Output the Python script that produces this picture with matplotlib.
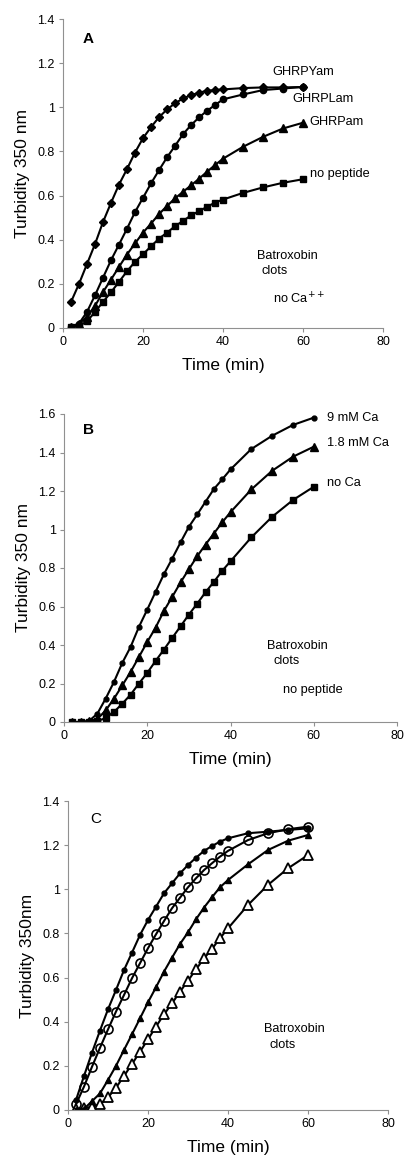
import matplotlib
matplotlib.use("Agg")
import matplotlib.pyplot as plt

plt.rcParams['font.family'] = ['Liberation Sans', 'DejaVu Sans']

t = [2, 4, 6, 8, 10, 12, 14, 16, 18, 20, 22, 24, 26, 28, 30, 32, 34, 36, 38, 40, 45, 50, 55, 60]

# Panel A
a_ghrpyam = [0.118, 0.20, 0.29, 0.38, 0.48, 0.567, 0.65, 0.72, 0.795, 0.86, 0.91, 0.955, 0.99, 1.018,
             1.04, 1.055, 1.066, 1.075, 1.078, 1.081, 1.087, 1.09, 1.09, 1.092]
a_ghrplam = [0.005, 0.02, 0.073, 0.148, 0.228, 0.307, 0.378, 0.45, 0.525, 0.59, 0.655, 0.715, 0.773, 0.825,
             0.878, 0.919, 0.954, 0.984, 1.01, 1.036, 1.058, 1.078, 1.085, 1.092]
a_ghrpam = [0.005, 0.02, 0.05, 0.10, 0.163, 0.219, 0.277, 0.333, 0.383, 0.432, 0.473, 0.516, 0.553, 0.587,
            0.617, 0.646, 0.676, 0.708, 0.738, 0.767, 0.821, 0.866, 0.904, 0.93]
a_nopep = [0.005, 0.01, 0.03, 0.073, 0.118, 0.162, 0.209, 0.257, 0.30, 0.334, 0.37, 0.405, 0.432, 0.461,
           0.485, 0.51, 0.529, 0.549, 0.568, 0.582, 0.612, 0.637, 0.658, 0.674]

# Panel B
b_9mm = [0.0, 0.0, 0.005, 0.043, 0.121, 0.208, 0.307, 0.39, 0.494, 0.584, 0.676, 0.768, 0.849, 0.933,
         1.014, 1.078, 1.144, 1.21, 1.26, 1.312, 1.418, 1.487, 1.543, 1.581]
b_18mm = [0.0, 0.0, 0.005, 0.015, 0.06, 0.121, 0.19, 0.26, 0.338, 0.416, 0.49, 0.577, 0.65, 0.725,
          0.794, 0.861, 0.922, 0.979, 1.037, 1.09, 1.208, 1.305, 1.378, 1.43]
b_noca = [0.0, 0.0, 0.0, 0.005, 0.02, 0.052, 0.095, 0.142, 0.20, 0.255, 0.317, 0.376, 0.437, 0.497,
          0.558, 0.615, 0.674, 0.728, 0.785, 0.835, 0.959, 1.066, 1.153, 1.222]

# Panel C
c_fcirc = [0.045, 0.154, 0.26, 0.36, 0.456, 0.544, 0.634, 0.713, 0.793, 0.861, 0.921, 0.982, 1.027, 1.072,
           1.11, 1.143, 1.174, 1.196, 1.216, 1.231, 1.254, 1.261, 1.269, 1.276]
c_ocirc = [0.026, 0.106, 0.196, 0.282, 0.365, 0.446, 0.521, 0.597, 0.665, 0.733, 0.796, 0.856, 0.914, 0.962,
           1.009, 1.05, 1.087, 1.118, 1.148, 1.174, 1.223, 1.254, 1.272, 1.284]
c_ftri = [0.0, 0.005, 0.04, 0.075, 0.136, 0.20, 0.272, 0.343, 0.415, 0.488, 0.556, 0.627, 0.69, 0.752,
          0.805, 0.864, 0.917, 0.964, 1.009, 1.042, 1.113, 1.178, 1.22, 1.246]
c_otri = [0.003, 0.008, 0.015, 0.026, 0.057, 0.101, 0.154, 0.208, 0.264, 0.32, 0.378, 0.433, 0.483, 0.536,
          0.586, 0.637, 0.687, 0.73, 0.778, 0.823, 0.929, 1.02, 1.095, 1.155]

W, H = 406, 1161
fig = plt.figure(figsize=(W / 100, H / 100), dpi=100)

def mkax(l, r, top, bot):
    return fig.add_axes([l / W, (H - bot) / H, (r - l) / W, (bot - top) / H])

axA = mkax(63, 383, 19, 328)
axB = mkax(64, 397, 414, 722)
axC = mkax(68, 388, 801, 1110)

TICKFS = 9
LBLFS = 12.5
TXTFS = 9.2

def style(ax, ymax, ylabel):
    ax.set_xlim(0, 80)
    ax.set_ylim(0, ymax)
    ax.set_xticks([0, 20, 40, 60, 80])
    ax.set_xticklabels(['0', '20', '40', '60', '80'])
    yt = [round(0.2 * i, 1) for i in range(int(round(ymax / 0.2)) + 1)]
    ax.set_yticks(yt)
    ax.set_yticklabels(['0' if v == 0 else ('1' if v == 1 else f'{v:g}') for v in yt])
    for s in ['top', 'right']:
        ax.spines[s].set_visible(False)
    for s in ['left', 'bottom']:
        ax.spines[s].set_color('#909090')
        ax.spines[s].set_linewidth(0.8)
    ax.tick_params(direction='out', length=3, width=0.8, color='#909090', labelsize=TICKFS, pad=3)
    ax.set_xlabel('Time (min)', fontsize=LBLFS, labelpad=7)
    ax.set_ylabel(ylabel, fontsize=LBLFS, labelpad=5)

lw = 1.5
# Panel A
axA.plot(t, a_nopep, color='black', lw=lw, marker='s', ms=5)
axA.plot(t, a_ghrpam, color='black', lw=lw, marker='^', ms=5.5)
axA.plot(t, a_ghrplam, color='black', lw=lw, marker='o', ms=4.5)
axA.plot(t, a_ghrpyam, color='black', lw=lw, marker='D', ms=4.5)
style(axA, 1.4, 'Turbidity 350 nm')
axA.text(5, 1.31, 'A', fontsize=11, fontweight='bold', ha='left', va='center')
axA.text(60, 1.16, 'GHRPYam', fontsize=TXTFS, ha='center', va='center')
axA.text(65, 1.036, 'GHRPLam', fontsize=TXTFS, ha='center', va='center')
axA.text(61.7, 0.935, 'GHRPam', fontsize=TXTFS, ha='left', va='center')
axA.text(61.7, 0.70, 'no peptide', fontsize=TXTFS, ha='left', va='center')
axA.text(56, 0.325, 'Batroxobin', fontsize=TXTFS, ha='center', va='center')
axA.text(53, 0.26, 'clots', fontsize=TXTFS, ha='center', va='center')
axA.text(52.5, 0.133, 'no Ca$^{++}$', fontsize=TXTFS, ha='left', va='center')

# Panel B
axB.plot(t, b_noca, color='black', lw=lw, marker='s', ms=5)
axB.plot(t, b_18mm, color='black', lw=lw, marker='^', ms=5.5)
axB.plot(t, b_9mm, color='black', lw=lw, marker='o', ms=3.5)
style(axB, 1.6, 'Turbidity 350 nm')
axB.text(4.5, 1.516, 'B', fontsize=11, fontweight='bold', ha='left', va='center')
axB.text(63.2, 1.58, '9 mM Ca', fontsize=TXTFS, ha='left', va='center')
axB.text(63.2, 1.447, '1.8 mM Ca', fontsize=TXTFS, ha='left', va='center')
axB.text(63.2, 1.243, 'no Ca', fontsize=TXTFS, ha='left', va='center')
axB.text(56, 0.395, 'Batroxobin', fontsize=TXTFS, ha='center', va='center')
axB.text(53.5, 0.317, 'clots', fontsize=TXTFS, ha='center', va='center')
axB.text(59.7, 0.165, 'no peptide', fontsize=TXTFS, ha='center', va='center')

# Panel C
axC.plot(t, c_otri, color='black', lw=lw, marker='^', ms=7, mfc='white', mew=1.3)
axC.plot(t, c_ftri, color='black', lw=lw, marker='^', ms=4.5)
axC.plot(t, c_ocirc, color='black', lw=lw, marker='o', ms=6.5, mfc='none', mew=1.2)
axC.plot(t, c_fcirc, color='black', lw=lw, marker='o', ms=3.5)
style(axC, 1.4, 'Turbidity 350nm')
axC.text(5.5, 1.32, 'C', fontsize=11, ha='left', va='center')
axC.text(56.5, 0.366, 'Batroxobin', fontsize=TXTFS, ha='center', va='center')
axC.text(53.7, 0.295, 'clots', fontsize=TXTFS, ha='center', va='center')

fig.savefig('out.png', dpi=100)
